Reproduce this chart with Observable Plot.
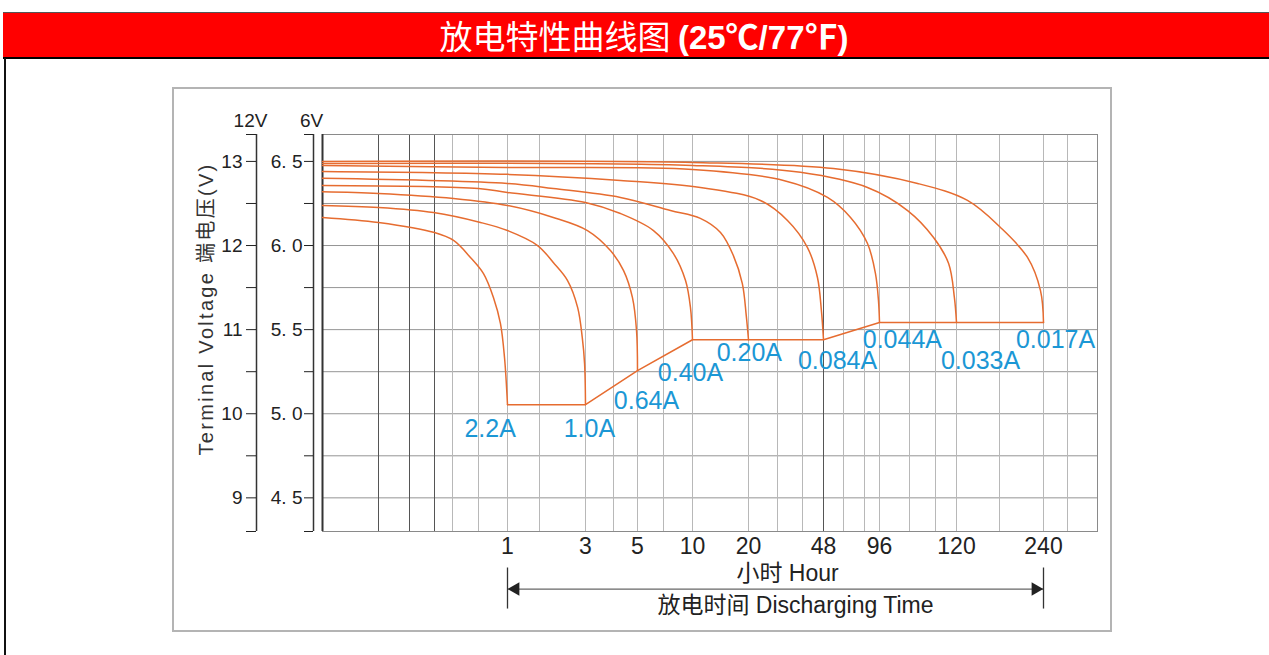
<!DOCTYPE html>
<html><head><meta charset="utf-8">
<script src="https://cdn.jsdelivr.net/npm/d3@7"></script>
<script src="https://cdn.jsdelivr.net/npm/@observablehq/plot@0.6"></script>
<style>
html,body{margin:0;padding:0;background:#fff;width:1269px;height:655px;overflow:hidden;position:relative;}
#band{position:absolute;left:3px;top:12px;width:1266px;height:44px;background:#ff0000;border-top:1px solid #555;border-bottom:2px solid #000;}
#leftline{position:absolute;left:4px;top:58px;width:2px;height:600px;background:#111;}
#title{position:absolute;left:0;top:12px;width:1288px;height:46px;line-height:46px;text-align:center;color:#fff;font-family:"Noto Sans CJK SC",sans-serif;font-size:33px;white-space:nowrap;}
#title b{font-family:"Liberation Sans","Noto Sans CJK SC",sans-serif;font-weight:bold;}
#box{position:absolute;left:172px;top:87px;width:940px;height:545px;box-sizing:border-box;border:2px solid #b4b4b4;}
#chart{position:absolute;left:172px;top:87px;}
</style></head>
<body>
<div id="band"></div>
<div id="leftline"></div>
<div id="title">放电特性曲线图 <b>(25℃/77℉)</b></div>
<div id="box"></div>
<div id="chart"></div>
<script>
// x scale: hand-drawn non-uniform hour axis (anchor hours and their pixel positions)
const hourAnchors = [0,0.1,0.2,0.3,0.4,0.6,1,2,3,4,5,7,10,20,30,40,48,60,80,96,104,112,120,180,240,280,320];
const anchorPx    = [150,206,237,262,280,306,335,367,413,441,465,491,520,576,605,630,651,671,692,707,737,763,784,827,871,895,925];
const hourTicks = [1,3,5,10,20,48,96,120,240];
const darkGrid = [0.1,0.2,0.3,48];
const voltGrid = [4.5,4.75,5,5.25,5.5,5.75,6,6.25,6.5];
const volt6Ticks = [4.5,5,5.5,6,6.5];
const volt6Labels = ["4. 5","5. 0","5. 5","6. 0","6. 5"];
const volt12Labels = ["9","10","11","12","13"];

const currents = ["2.2A","1.0A","0.64A","0.40A","0.20A","0.084A","0.044A","0.033A","0.017A"];

const h22 = [0,0.1,0.3,0.408,0.538,0.669,0.807,0.903,0.959,1];
const v22 = [6.167,6.137,6.077,6.03,5.929,5.833,5.69,5.536,5.333,5.054];
const h10 = [0,0.1,0.296,0.628,1,1.94,2.3,2.61,2.83,2.93,2.98,3];
const v10 = [6.238,6.226,6.196,6.137,6.089,6.0,5.899,5.792,5.631,5.452,5.298,5.054];
const h064 = [0,0.1,0.408,1,2.3,3.07,3.89,4.42,4.79,4.96,5];
const v064 = [6.32,6.31,6.28,6.238,6.167,6.089,5.97,5.851,5.69,5.494,5.256];
const h040 = [0,0.6,1,3,4.29,6.23,8.03,9.28,9.79,10];
const v040 = [6.357,6.339,6.315,6.256,6.19,6.089,5.952,5.792,5.631,5.44];
const h020 = [0,1,2.3,4.29,7.72,11.4,15,17.3,18.9,19.6,20];
const v020 = [6.40,6.369,6.339,6.286,6.208,6.161,6.077,5.94,5.774,5.583,5.44];
const h0084 = [0,1,4.29,11.4,24.1,34,41.9,45.7,47.2,48];
const v0084 = [6.44,6.423,6.387,6.345,6.268,6.149,5.988,5.81,5.613,5.44];
const h0044 = [0,1,10,32.4,50.4,66.7,83.2,91.7,94.9,96];
const v0044 = [6.476,6.464,6.452,6.387,6.286,6.167,6.012,5.833,5.673,5.542];
const h0033 = [0,10,39.2,83.2,103.5,111.4,117,119.2,120];
const v0033 = [6.488,6.476,6.435,6.345,6.208,6.048,5.893,5.69,5.542];
const h0017 = [0,10,54,106.5,135.3,181.4,218.2,235.9,240];
const v0017 = [6.5,6.494,6.458,6.369,6.268,6.107,5.929,5.732,5.542];

// final (cut-off) voltage line
const cutHours = [1,3,5,10,20,48,96,120,240];
const cutVolts = [5.054,5.054,5.256,5.44,5.44,5.44,5.542,5.542,5.542];

// current labels (hours, volts)
const labelHours = [0.76,3.14,5.69,9.79,20.3,56.4,102.1,153.5,260];
const labelVolts = [4.911,4.911,5.077,5.244,5.363,5.315,5.44,5.315,5.44];

const series = [[h22,v22],[h10,v10],[h064,v064],[h040,v040],[h020,v020],[h0084,v0084],[h0044,v0044],[h0033,v0033],[h0017,v0017]];
const rows = [];
series.forEach(([h,v],k) => h.forEach((x,i) => rows.push({name: currents[k], h: x, v: v[i]})));
const cut = cutHours.map((h,i) => ({h, v: cutVolts[i]}));
const labels = currents.map((t,i) => ({t, h: labelHours[i], v: labelVolts[i]}));

const orange = "#e66c30";
const blue = "#1b97d5";
const font = "'Liberation Sans', Arial, 'Noto Sans CJK SC', sans-serif";
const yDomain = [4.3, 6.66];

const chart = Plot.plot({
  width: 940, height: 545,
  marginLeft: 150, marginRight: 15, marginTop: 47, marginBottom: 101,
  x: {type: "linear", domain: hourAnchors, range: anchorPx},
  y: {domain: yDomain},
  style: {background: "transparent", fontFamily: font, color: "#222"},
  marks: [
    Plot.ruleY(voltGrid, {stroke: "#959595", strokeWidth: 1}),
    Plot.ruleX(hourAnchors.filter(h => h > 0 && h < 320 && !darkGrid.includes(h)), {stroke: "#b8b8b8", strokeWidth: 1}),
    Plot.ruleX(darkGrid, {stroke: "#555", strokeWidth: 1}),
    Plot.frame({stroke: "#8a8a8a"}),
    Plot.ruleX([0], {stroke: "#333", strokeWidth: 2}),
    Plot.line(rows, {x: "h", y: "v", z: "name", stroke: orange, strokeWidth: 1.5, curve: "catmull-rom"}),
    Plot.line(cut, {x: "h", y: "v", stroke: orange, strokeWidth: 1.5}),
    Plot.text(labels, {x: "h", y: "v", text: "t", fill: blue, fontSize: 25}),
    // 6V axis
    Plot.ruleX([0], {dx: -9, stroke: "#333", strokeWidth: 1.5}),
    Plot.axisY({ticks: [...yDomain, ...voltGrid], tickSize: 9, tickPadding: 2, dx: -9, label: null, fontSize: 19, color: "#222",
      tickFormat: d => { const k = volt6Ticks.indexOf(d); return k >= 0 ? volt6Labels[k] : ""; }}),
    // 12V axis
    Plot.ruleX([0], {dx: -66, stroke: "#333", strokeWidth: 1.5}),
    Plot.axisY({ticks: [...yDomain, ...voltGrid], tickSize: 10, tickPadding: 4, dx: -66, label: null, fontSize: 19, color: "#222",
      tickFormat: d => { const k = volt6Ticks.indexOf(d); return k >= 0 ? volt12Labels[k] : ""; }}),
    Plot.text(["12V"], {frameAnchor: "top-left", textAnchor: "middle", lineAnchor: "middle", dx: -72, dy: -14, fontSize: 19, fill: "#222"}),
    Plot.text(["6V"], {frameAnchor: "top-left", textAnchor: "middle", lineAnchor: "middle", dx: -11, dy: -14, fontSize: 19, fill: "#222"}),
    Plot.text(["Terminal Voltage 端电压(V)"], {frameAnchor: "left", textAnchor: "middle", lineAnchor: "middle", rotate: -90, dx: -116, dy: -24, fontSize: 20, fill: "#333"}),
    // x axis
    Plot.axisX({ticks: hourTicks, tickSize: 0, tickPadding: 6, label: null, fontSize: 23, color: "#222", tickFormat: d => String(d)}),
    // discharging time arrow
    Plot.ruleY([3.958], {x1: 1, x2: 240, stroke: "#666", strokeWidth: 1.3}),
    Plot.ruleX([1, 240], {y1: 4.083, y2: 3.839, stroke: "#333", strokeWidth: 1.3}),
    Plot.dot([1], {x: d => d, y: 3.958, symbol: "triangle", r: 5, rotate: -90, fill: "#222", stroke: null, dx: 8}),
    Plot.dot([240], {x: d => d, y: 3.958, symbol: "triangle", r: 5, rotate: 90, fill: "#222", stroke: null, dx: -8}),
    Plot.text(["小时 Hour"], {frameAnchor: "bottom", textAnchor: "middle", lineAnchor: "middle", dx: 77.5, dy: 42, fontSize: 23, fill: "#222"}),
    Plot.text(["放电时间 Discharging Time"], {frameAnchor: "bottom", textAnchor: "middle", lineAnchor: "middle", dx: 85.5, dy: 74, fontSize: 23, fill: "#222"})
  ]
});
d3.select(chart).selectAll("text").filter(function() { return this.textContent.startsWith("Terminal"); })
  .style("letter-spacing", "2.3px");
document.getElementById("chart").appendChild(chart);
</script>
</body></html>
